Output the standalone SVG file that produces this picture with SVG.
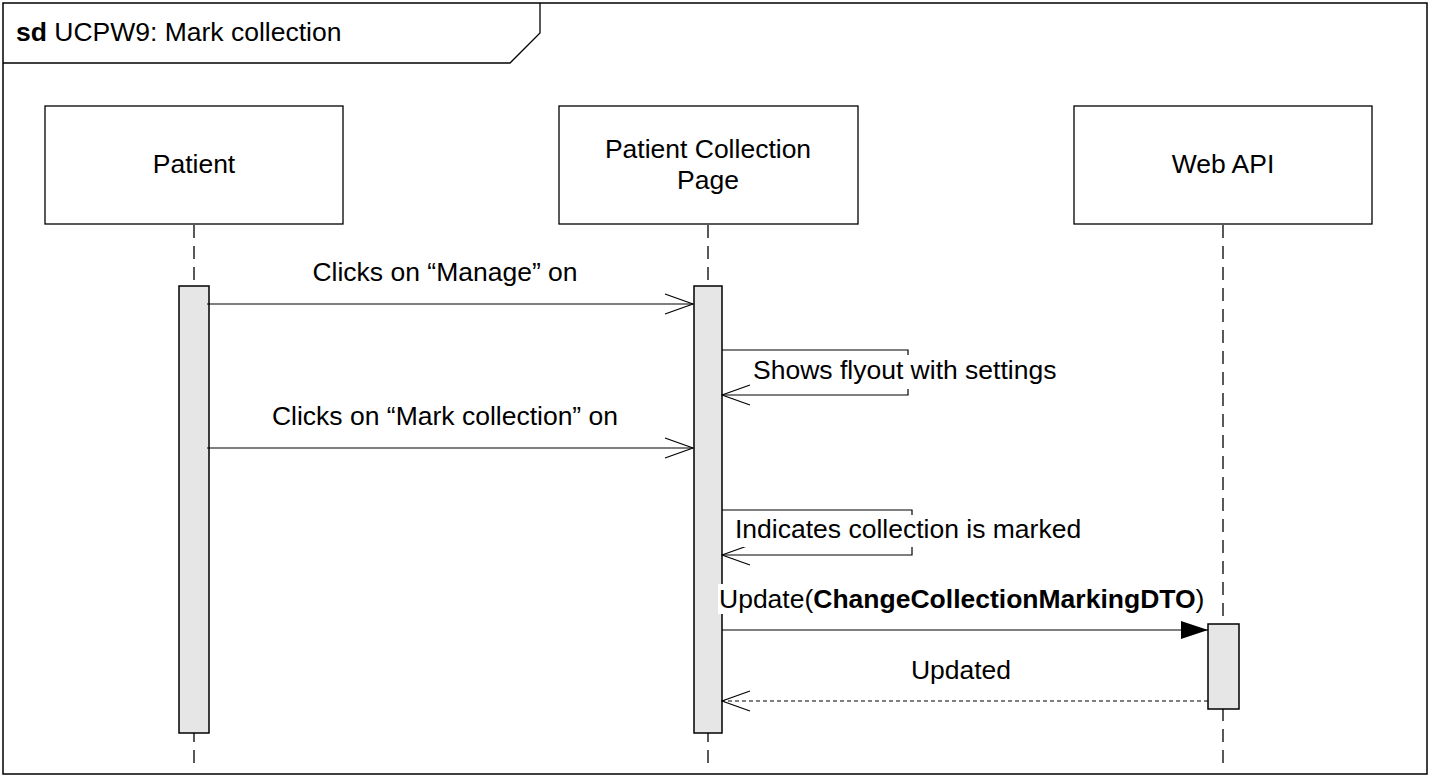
<svg xmlns="http://www.w3.org/2000/svg" width="1430" height="775" viewBox="0 0 1430 775">
<defs>
<style>
text{font-family:"Liberation Sans",Arial,sans-serif;font-size:26.5px;fill:#000}
.b{font-weight:bold}
.box{fill:#fff;stroke:#000;stroke-width:1.3}
.life{stroke:#000;stroke-width:1.3;stroke-dasharray:13 8;fill:none}
.act{fill:#e6e6e6;stroke:#000;stroke-width:1.5}
.msg{stroke:#000;stroke-width:1.2;fill:none}
.ret{stroke:#000;stroke-width:1.2;fill:none;stroke-dasharray:4 3}
.bg{fill:#fff;stroke:none}
</style>
<marker id="open" viewBox="0 0 30 24" refX="29" refY="12" markerWidth="30" markerHeight="24" markerUnits="userSpaceOnUse" orient="auto">
<path d="M1,2 L29,12 L1,22" fill="none" stroke="#000" stroke-width="1.2"/>
</marker>
<marker id="filled" viewBox="0 0 28 18" refX="27" refY="9" markerWidth="28" markerHeight="18" markerUnits="userSpaceOnUse" orient="auto">
<path d="M0,0 L27,9 L0,18 Z" fill="#000"/>
</marker>
</defs>
<rect x="0" y="0" width="1430" height="775" fill="#fff"/>
<g id="frame">
<rect x="3" y="3" width="1424" height="771" fill="none" stroke="#000" stroke-width="1.5"/>
<path d="M3,63 L510,63 L540,33 L540,3" fill="none" stroke="#000" stroke-width="1.3"/>
<text x="16" y="41"><tspan class="b">sd</tspan> UCPW9: Mark collection</text>
</g>
<g id="lifelines">
<line class="life" x1="194" y1="225" x2="194" y2="770"/>
<line class="life" x1="708" y1="225" x2="708" y2="770"/>
<line class="life" x1="1223" y1="225" x2="1223" y2="770"/>
</g>
<g id="patient">
<rect class="box" x="45" y="106" width="298" height="118"/>
<text x="194" y="173" text-anchor="middle">Patient</text>
<rect class="act" x="179" y="286" width="30" height="447"/>
</g>
<g id="page">
<rect class="box" x="559" y="106" width="299" height="118"/>
<text x="708" y="158" text-anchor="middle">Patient Collection</text>
<text x="708" y="189" text-anchor="middle">Page</text>
<rect class="act" x="694" y="286" width="28" height="447"/>
</g>
<g id="webapi">
<rect class="box" x="1074" y="106" width="298" height="118"/>
<text x="1223" y="173" text-anchor="middle">Web API</text>
<rect class="act" x="1208" y="624" width="31" height="85"/>
</g>
<g id="connectors">
<line class="msg" x1="207" y1="304" x2="693" y2="304" marker-end="url(#open)"/>
<text x="445" y="281" text-anchor="middle">Clicks on “Manage” on</text>
<polyline class="msg" points="722,350 908,350 908,395 722,395" marker-end="url(#open)"/>
<rect class="bg" x="750" y="355" width="310" height="34"/>
<text x="753" y="379">Shows flyout with settings</text>
<line class="msg" x1="207" y1="448" x2="693" y2="448" marker-end="url(#open)"/>
<text x="445" y="425" text-anchor="middle">Clicks on “Mark collection” on</text>
<polyline class="msg" points="722,510 912,510 912,555 722,555" marker-end="url(#open)"/>
<rect class="bg" x="732" y="515" width="354" height="32"/>
<text x="735" y="538">Indicates collection is marked</text>
<line class="msg" x1="722" y1="630" x2="1208" y2="630" marker-end="url(#filled)"/>
<rect class="bg" x="718" y="584" width="490" height="30"/>
<text x="719" y="608">Update(<tspan class="b">ChangeCollectionMarkingDTO</tspan>)</text>
<line class="ret" x1="1208" y1="701" x2="722" y2="701" marker-end="url(#open)"/>
<text x="961" y="679" text-anchor="middle">Updated</text>
</g>
</svg>
